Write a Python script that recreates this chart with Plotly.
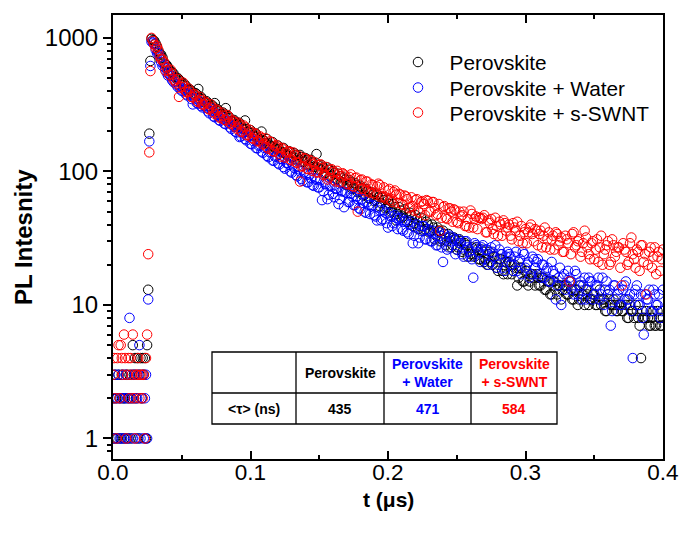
import numpy as np
import plotly.graph_objects as go

# ---------------- data ----------------
# background channels (t < 0.025 us), rising edge, decay channels (two interleaved channel sets)
t_bg = np.round(np.arange(32) * 0.0008, 4)
t_rise = [0.0256, 0.0264, 0.0272]
t_decay_a = np.round(0.028 + 0.002 * np.arange(187), 4)
t_decay_b = np.round(0.029 + 0.002 * np.arange(186), 4)

bg_black = [2, 1, 3, 2, 1, 3, 2, 1, 3, 2, 1, 2, 3, 1, 2, 3, 1, 2, 5, 3, 4, 2, 4, 1, 3, 4, 2, 4, 3, 4, 1, 5]
bg_blue = [1, 2, 3, 1, 2, 3, 1, 2, 1, 3, 2, 1, 3, 2, 1, 8, 2, 3, 1, 2, 3, 1, 2, 3, 5, 1, 2, 3, 1, 2, 3, 1]
bg_red = [3, 4, 2, 1, 4, 5, 2, 5, 4, 3, 6, 4, 1, 3, 4, 2, 4, 3, 6, 2, 1, 3, 3, 4, 2, 3, 3, 2, 3, 1, 4, 6]

rise_black = [13, 192, 673]
rise_blue = [11, 168, 617]
rise_red = [24, 139, 565]

decay_black_a = [
    985, 951, 862, 758, 712, 633, 602, 551, 541, 497,
    488, 452, 449, 414, 411, 384, 386, 415, 361, 333,
    336, 310, 314, 325, 293, 270, 276, 298, 259, 238,
    243, 226, 231, 209, 241, 198, 204, 186, 192, 171,
    199, 169, 175, 157, 166, 149, 156, 141, 150, 133,
    142, 127, 137, 121, 133, 118, 126, 111, 122, 108,
    135, 103, 111, 97, 107, 92, 101, 88, 96, 83,
    90, 79, 86, 74, 82, 70, 78, 66, 74, 63,
    70, 60, 67, 55, 64, 53, 61, 50, 57, 43,
    54, 45, 52, 42, 49, 39, 47, 37, 45, 36,
    42, 35, 40, 31, 38, 30, 36, 28, 34, 27,
    32, 26, 31, 25, 29, 23, 24, 24, 27, 22,
    26, 21, 20, 25, 20, 23, 18, 22, 17, 21,
    21, 17, 20, 14, 19, 15, 18, 14, 17, 16,
    17, 14, 16, 13, 15, 12, 15, 13, 14, 11,
    14, 12, 15, 11, 13, 10, 14, 12, 13, 10,
    11, 12, 10, 13, 11, 9, 12, 10, 11, 9,
    10, 9, 11, 8, 10, 9, 10, 8, 4, 8,
    9, 7, 8, 7, 9, 7, 8,
]
decay_black_b = [
    962, 908, 795, 749, 658, 627, 571, 553, 509, 501,
    476, 441, 437, 405, 402, 376, 378, 352, 349, 327,
    326, 305, 306, 286, 284, 268, 267, 251, 250, 236,
    236, 222, 221, 209, 208, 197, 195, 183, 182, 172,
    172, 163, 162, 154, 153, 146, 146, 139, 138, 131,
    139, 129, 133, 123, 128, 119, 122, 113, 117, 108,
    112, 104, 107, 98, 103, 93, 97, 88, 92, 83,
    87, 79, 83, 75, 79, 71, 75, 67, 71, 63,
    67, 61, 64, 58, 61, 54, 57, 51, 54, 48,
    51, 46, 49, 43, 47, 41, 44, 39, 42, 37,
    40, 36, 38, 33, 36, 31, 34, 30, 32, 28,
    31, 27, 30, 26, 28, 25, 27, 23, 26, 22,
    25, 22, 24, 21, 23, 19, 22, 18, 21, 17,
    20, 18, 19, 16, 19, 15, 18, 15, 17, 14,
    16, 14, 16, 13, 15, 12, 15, 12, 14, 13,
    14, 12, 13, 11, 13, 11, 12, 10, 12, 11,
    12, 10, 11, 10, 11, 9, 11, 10, 10, 9,
    10, 9, 10, 8, 9, 8, 9, 7, 9, 8,
    8, 7, 9, 7, 8, 7,
]
decay_blue_a = [
    938, 902, 771, 722, 618, 596, 523, 519, 467, 449,
    441, 402, 410, 371, 377, 318, 351, 322, 309, 312,
    301, 273, 283, 255, 264, 239, 246, 226, 231, 208,
    216, 196, 181, 193, 175, 182, 161, 169, 150, 156,
    141, 150, 131, 139, 121, 129, 115, 124, 108, 116,
    112, 98, 106, 92, 100, 85, 95, 83, 89, 78,
    87, 76, 61, 81, 62, 78, 68, 74, 57, 71,
    54, 69, 59, 65, 56, 62, 52, 58, 49, 56,
    55, 47, 43, 51, 44, 49, 38, 46, 41, 45,
    44, 37, 42, 35, 40, 29, 38, 29, 36, 39,
    31, 36, 30, 34, 28, 33, 21, 32, 27, 30,
    31, 26, 29, 24, 30, 27, 23, 16, 28, 25,
    27, 22, 26, 21, 25, 28, 20, 24, 19, 23,
    24, 20, 23, 18, 22, 25, 19, 21, 17, 22,
    21, 17, 20, 16, 19, 15, 18, 11, 16, 10,
    17, 14, 16, 13, 18, 12, 15, 14, 11, 16,
    15, 12, 14, 11, 16, 13, 12, 7, 14, 11,
    13, 10, 14, 11, 12, 4, 13, 10, 12, 6,
    11, 13, 9, 12, 10, 8, 13,
]
decay_blue_b = [
    921, 818, 768, 661, 629, 551, 538, 482, 476, 431,
    412, 419, 378, 387, 349, 359, 325, 335, 302, 311,
    282, 296, 259, 272, 243, 255, 228, 241, 214, 222,
    198, 213, 183, 195, 171, 186, 160, 172, 149, 158,
    138, 152, 128, 140, 120, 131, 113, 124, 105, 116,
    100, 111, 94, 104, 88, 98, 83, 94, 79, 89,
    76, 86, 71, 80, 67, 77, 64, 74, 62, 71,
    70, 59, 68, 56, 65, 53, 62, 50, 59, 48,
    56, 46, 54, 43, 51, 41, 49, 39, 47, 37,
    45, 36, 43, 34, 42, 33, 40, 32, 39, 31,
    37, 30, 36, 28, 35, 27, 34, 26, 33, 32,
    24, 31, 29, 23, 30, 25, 22, 29, 27, 21,
    28, 26, 20, 27, 23, 19, 26, 24, 18, 25,
    23, 18, 25, 21, 17, 24, 20, 16, 23, 19,
    22, 16, 20, 18, 15, 21, 17, 14, 19, 16,
    13, 18, 15, 12, 17, 14, 11, 16, 13, 15,
    11, 14, 16, 12, 10, 15, 13, 9, 14, 12,
    10, 13, 15, 11, 9, 12, 14, 10, 8, 12,
    11, 9, 13, 10, 12, 9,
]
decay_red_a = [
    1001, 891, 868, 727, 689, 571, 571, 577, 489, 456,
    362, 452, 431, 391, 398, 359, 371, 331, 342, 318,
    325, 291, 301, 270, 285, 251, 262, 241, 256, 226,
    236, 209, 225, 199, 214, 188, 197, 176, 190, 169,
    178, 161, 152, 168, 142, 155, 151, 129, 146, 138,
    141, 121, 133, 116, 84, 110, 124, 104, 119, 113,
    98, 112, 106, 95, 87, 103, 99, 84, 96, 92,
    95, 81, 91, 78, 89, 50, 86, 74, 84, 71,
    80, 69, 77, 79, 65, 64, 72, 61, 70, 67,
    68, 57, 66, 62, 54, 55, 61, 50, 59, 57,
    61, 50, 59, 53, 48, 36, 54, 45, 53, 50,
    52, 42, 50, 47, 39, 44, 51, 38, 46, 45,
    44, 47, 35, 41, 37, 45, 33, 40, 43, 36,
    40, 31, 38, 42, 33, 29, 37, 35, 40, 30,
    36, 34, 27, 38, 31, 26, 33, 35, 28, 32,
    25, 31, 15, 34, 27, 30, 23, 29, 32, 24,
    29, 22, 31, 27, 20, 26, 30, 21, 28, 25,
    27, 14, 26, 20, 29, 24, 19, 25, 28, 21,
    12, 25, 19, 27, 23, 18, 26,
]
decay_red_b = [
    948, 842, 812, 692, 661, 602, 528, 541, 478, 493,
    431, 463, 397, 418, 362, 381, 338, 362, 317, 334,
    296, 318, 279, 292, 258, 276, 244, 265, 232, 241,
    218, 232, 198, 221, 187, 206, 178, 194, 168, 183,
    159, 177, 148, 166, 141, 158, 136, 150, 127, 142,
    123, 139, 117, 131, 109, 126, 105, 122, 101, 117,
    99, 113, 94, 108, 90, 104, 86, 101, 83, 97,
    93, 80, 95, 77, 90, 74, 87, 71, 84, 69,
    79, 67, 81, 64, 76, 62, 74, 59, 72, 58,
    67, 56, 65, 53, 64, 51, 62, 49, 60, 47,
    60, 50, 59, 47, 57, 45, 55, 44, 53, 42,
    51, 41, 46, 50, 39, 38, 48, 44, 37, 45,
    45, 35, 43, 44, 34, 39, 42, 33, 41, 38,
    33, 41, 36, 30, 39, 35, 29, 38, 34, 37,
    28, 36, 33, 27, 35, 31, 26, 34, 30, 25,
    33, 29, 24, 35, 28, 31, 25, 36, 27, 22,
    30, 26, 21, 33, 24, 28, 20, 31, 23, 27,
    19, 29, 25, 21, 32, 22, 26, 18, 28, 24,
    20, 27, 23, 17, 25, 22,
]

series_names = ["Perovskite", "Perovskite + Water", "Perovskite + s-SWNT"]
series_colors = ["#000000", "#0000FF", "#FF0000"]
series_y = [
    bg_black + rise_black + decay_black_a + decay_black_b,
    bg_blue + rise_blue + decay_blue_a + decay_blue_b,
    bg_red + rise_red + decay_red_a + decay_red_b,
]
t_all = list(t_bg) + t_rise + list(t_decay_a) + list(t_decay_b)

table_header = ["", "Perovskite", "Perovskite<br>+ Water", "Perovskite<br>+ s-SWNT"]
table_row = ["<τ> (ns)", "435", "471", "584"]
table_colors = ["#000000", "#000000", "#0000FF", "#FF0000"]

# ---------------- figure ----------------
FONT = "Arial, Liberation Sans, sans-serif"
W, H = 682, 538
L, R, T, B = 113, 19, 15, 79
pw, ph = W - L - R, H - T - B


def px(x):
    return (x - L) / pw


def py(y):
    return (H - B - y) / ph


legend_ids = ["legend", "legend2", "legend3"]
legend_tops = [42, 67.5, 92.5]

fig = go.Figure()
for name, col, y, lid in zip(series_names, series_colors, series_y, legend_ids):
    fig.add_trace(go.Scatter(
        x=t_all, y=y, mode="markers", name="\u00a0\u00a0" + name, legend=lid,
        marker=dict(symbol="circle-open", size=9.5, color=col,
                    line=dict(width=1, color=col)),
    ))

# table geometry (pixels)
tx = [212, 296, 384, 471, 557]
ty = [352, 393, 424]
shapes = [dict(type="rect", xref="paper", yref="paper",
               x0=px(tx[0]), x1=px(tx[-1]), y0=py(ty[-1]), y1=py(ty[0]),
               line=dict(color="black", width=1.3), fillcolor="white")]
for xv in tx[1:-1]:
    shapes.append(dict(type="line", xref="paper", yref="paper",
                       x0=px(xv), x1=px(xv), y0=py(ty[-1]), y1=py(ty[0]),
                       line=dict(color="black", width=1.3)))
shapes.append(dict(type="line", xref="paper", yref="paper",
                   x0=px(tx[0]), x1=px(tx[-1]), y0=py(ty[1]), y1=py(ty[1]),
                   line=dict(color="black", width=1.3)))

annotations = []
for i in range(4):
    cx = px((tx[i] + tx[i + 1]) / 2)
    for txt, cy in ((table_header[i], (ty[0] + ty[1]) / 2), (table_row[i], (ty[1] + ty[2]) / 2)):
        if txt:
            annotations.append(dict(xref="paper", yref="paper", x=cx, y=py(cy),
                                    text="<b>" + txt + "</b>", showarrow=False,
                                    font=dict(family=FONT, size=14, color=table_colors[i]),
                                    xanchor="center", yanchor="middle"))

# axis titles
annotations.append(dict(xref="paper", yref="paper", x=0.5, y=py(499),
                        text="<b>t (μs)</b>", showarrow=False,
                        font=dict(family=FONT, size=21, color="black"),
                        xanchor="center", yanchor="middle"))
annotations.append(dict(xref="paper", yref="paper", x=px(23), y=py(237),
                        text="<b>PL Intesnity</b>", showarrow=False, textangle=-90,
                        font=dict(family=FONT, size=24, color="black"),
                        xanchor="center", yanchor="middle"))

layout_legends = {}
for lid, top in zip(legend_ids, legend_tops):
    layout_legends[lid] = dict(x=px(398), y=py(top), xanchor="left", yanchor="top",
                               bgcolor="rgba(0,0,0,0)", font=dict(family=FONT, size=20.8),
                               itemsizing="trace")

fig.update_layout(
    width=W, height=H,
    margin=dict(l=L, r=R, t=T, b=B, pad=0),
    paper_bgcolor="white", plot_bgcolor="white",
    font=dict(family=FONT, color="black"),
    showlegend=True,
    shapes=shapes, annotations=annotations,
    **layout_legends,
)
fig.update_xaxes(
    range=[0, 0.4], dtick=0.1, tickformat=".1f", automargin=False,
    showline=True, linewidth=2, linecolor="black", mirror="ticks",
    ticks="inside", ticklen=8, tickwidth=2, tickcolor="black",
    minor=dict(ticks="inside", ticklen=4, tickwidth=2, dtick=0.05, tickcolor="black"),
    showgrid=False, zeroline=False, ticklabelstandoff=-8,
    tickfont=dict(family=FONT, size=22.5),
)
fig.update_yaxes(
    type="log", range=[-0.154, 3.172], automargin=False,
    tickvals=[1, 10, 100, 1000], ticktext=["1", "10", "100", "1000"],
    showline=True, linewidth=2, linecolor="black", mirror=True,
    ticks="outside", ticklen=8, tickwidth=2, tickcolor="black",
    minor=dict(ticks="outside", ticklen=4, tickwidth=1.5, dtick="D1", tickcolor="black"),
    showgrid=False, zeroline=False,
    tickfont=dict(family=FONT, size=24),
)

fig.write_html("out.html")
